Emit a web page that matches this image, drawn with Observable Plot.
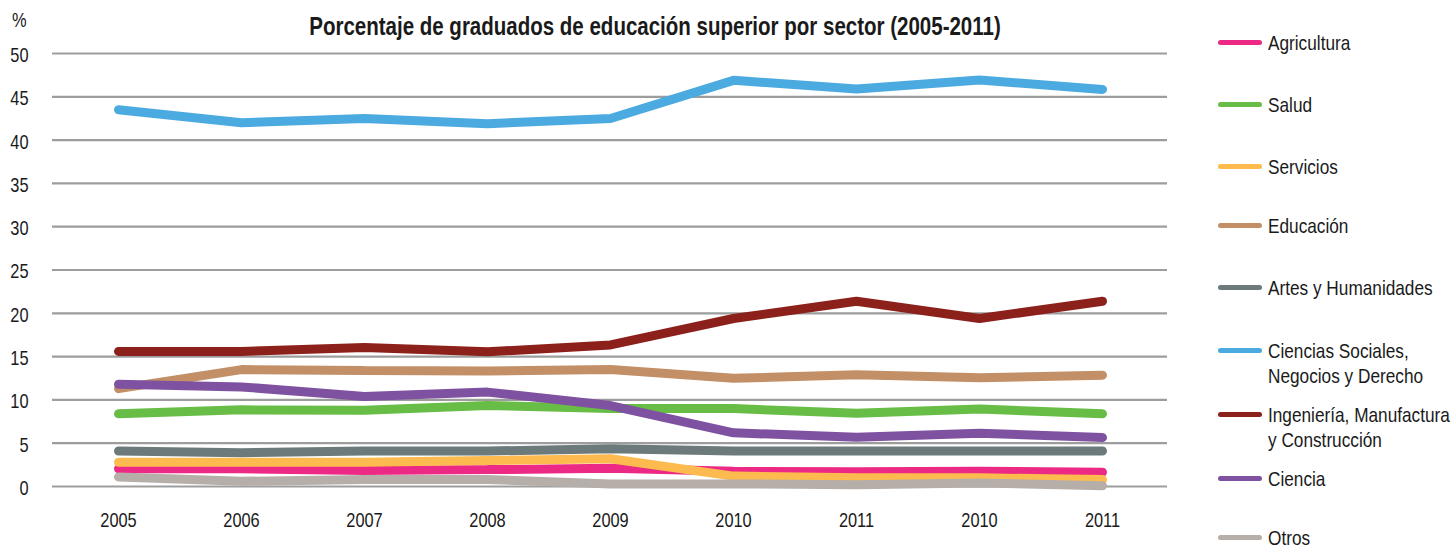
<!DOCTYPE html>
<html>
<head>
<meta charset="utf-8">
<script src="https://cdn.jsdelivr.net/npm/d3@7"></script>
<script src="https://cdn.jsdelivr.net/npm/@observablehq/plot@0.6"></script>
<style>
  html, body { margin: 0; padding: 0; background: #fff; }
  body { font-family: "Liberation Sans", Arial, sans-serif; color: #1a1a1a; }
  #wrap { position: relative; width: 1450px; height: 548px; overflow: hidden; }
  #title { position: absolute; left: 0; width: 1310px; top: 11px; text-align: center; font-weight: bold; font-size: 25px; line-height: 30px; transform: scaleX(0.82); transform-origin: 655px 0; white-space: nowrap; }
  #unit { position: absolute; left: 12px; top: 9px; font-size: 20px; transform: scaleX(0.82); transform-origin: 0 0; }
  .leg { position: absolute; left: 1218px; font-size: 21px; line-height: 25px; }
  .leg .sw { position: absolute; left: 0; width: 44px; height: 5px; border-radius: 3px; }
  .leg .tx { position: absolute; left: 50px; white-space: nowrap; transform: scaleX(0.82); transform-origin: 0 0; }
</style>
</head>
<body>
<div id="wrap">
  <div id="chart"></div>
  <div id="unit">%</div>
  <div id="title">Porcentaje de graduados de educación superior por sector (2005-2011)</div>
  <div id="legend"></div>
</div>
<script>
// Category labels (as printed on the x axis, duplicates included)
const yearLabels = ["2005", "2006", "2007", "2008", "2009", "2010", "2011", "2010", "2011"];

const sectors = [
  "Agricultura", "Salud", "Servicios", "Educación", "Artes y Humanidades",
  "Ciencias Sociales, Negocios y Derecho", "Ingeniería, Manufactura y Construcción",
  "Ciencia", "Otros"
];
const legendLines = [
  ["Agricultura"], ["Salud"], ["Servicios"], ["Educación"], ["Artes y Humanidades"],
  ["Ciencias Sociales,", "Negocios y Derecho"], ["Ingeniería, Manufactura", "y Construcción"],
  ["Ciencia"], ["Otros"]
];
const colors = ["#EC2A85", "#67BD45", "#FDBB4F", "#C38F66", "#6C7A7C", "#4BAADF", "#8C201B", "#7F52A1", "#B6AEA9"];

// Series values (%)
const agricultura = [2.05, 2.05, 1.85, 1.95, 2.1, 1.75, 1.7, 1.75, 1.65];
const salud       = [8.4, 8.85, 8.8, 9.35, 9.0, 9.0, 8.45, 8.95, 8.4];
const servicios   = [2.8, 2.8, 2.8, 3.0, 3.2, 1.2, 1.0, 1.0, 0.8];
const educacion   = [11.3, 13.5, 13.4, 13.35, 13.5, 12.5, 12.9, 12.55, 12.85];
const artes       = [4.1, 3.9, 4.1, 4.1, 4.35, 4.1, 4.1, 4.1, 4.1];
const cienciasSoc = [43.5, 42.0, 42.5, 41.9, 42.5, 46.9, 45.9, 46.95, 45.85];
const ingenieria  = [15.6, 15.6, 16.05, 15.55, 16.35, 19.4, 21.4, 19.4, 21.4];
const ciencia     = [11.8, 11.5, 10.4, 10.9, 9.35, 6.2, 5.7, 6.15, 5.65];
const otros       = [1.1, 0.6, 0.8, 0.8, 0.3, 0.3, 0.2, 0.4, 0.1];

const seriesValues = [agricultura, salud, servicios, educacion, artes, cienciasSoc, ingenieria, ciencia, otros];
const yTicks = [0, 5, 10, 15, 20, 25, 30, 35, 40, 45, 50];

const rows = [];
sectors.forEach((s, k) => seriesValues[k].forEach((v, i) => rows.push({sector: s, i, value: v})));

const chart = Plot.plot({
  width: 1450,
  height: 548,
  marginLeft: 52,
  marginRight: 283,
  marginTop: 53,
  marginBottom: 62,
  style: {fontFamily: '"Liberation Sans", Arial, sans-serif', fontSize: "20px", color: "#1a1a1a", background: "#fff"},
  x: {type: "point", domain: d3.range(yearLabels.length), padding: 0.5, label: null},
  y: {domain: [0, 50], label: null},
  color: {domain: sectors, range: colors},
  marks: [
    Plot.ruleY(yTicks, {stroke: "#9d9d9d", strokeWidth: 2.2}),
    Plot.ruleX([0], {x: () => null, frameAnchor: "left", y1: 0, y2: 50, stroke: "#9d9d9d", strokeWidth: 2.2}),
    Plot.axisY({ticks: yTicks, tickSize: 0, tickPadding: 24, dy: 2, label: null, fontSize: 20}),
    Plot.axisX({tickSize: 0, tickPadding: 26, tickFormat: i => yearLabels[i], label: null, fontSize: 20}),
    Plot.line(rows, {x: "i", y: "value", z: "sector", stroke: "sector", strokeWidth: 9,
      strokeLinecap: "round", strokeLinejoin: "miter", curve: "linear"})
  ]
});
// condense axis tick labels (narrow typeface look)
chart.querySelectorAll('g[aria-label$="tick label"] text').forEach(t => {
  const tr = t.getAttribute("transform");
  if (tr) {
    t.setAttribute("transform", tr + " scale(0.82,1)");
  } else {
    const x = +t.getAttribute("x") || 0, y = +t.getAttribute("y") || 0;
    t.removeAttribute("x"); t.removeAttribute("y");
    t.setAttribute("transform", `translate(${x},${y}) scale(0.82,1)`);
  }
});
document.getElementById("chart").appendChild(chart);

// Legend
const legendY = [42, 104, 166, 225, 287, 350, 414, 478, 537];
const leg = document.getElementById("legend");
sectors.forEach((s, k) => {
  const d = document.createElement("div");
  d.className = "leg";
  d.style.top = (legendY[k] - 12.5) + "px";
  const sw = document.createElement("div");
  sw.className = "sw";
  sw.style.background = colors[k];
  sw.style.top = "10px";
  const tx = document.createElement("div");
  tx.className = "tx";
  tx.innerHTML = legendLines[k].join("<br>");
  d.appendChild(sw); d.appendChild(tx);
  leg.appendChild(d);
});
</script>
</body>
</html>
